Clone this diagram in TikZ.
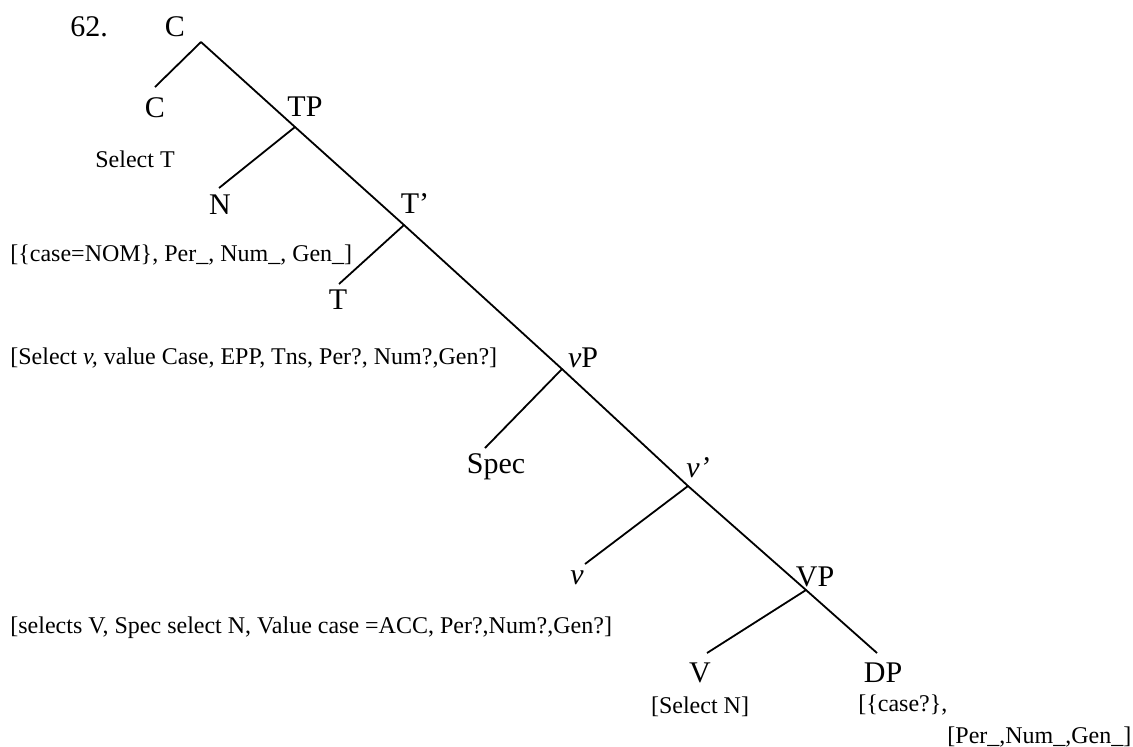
\documentclass[tikz,border=0pt]{standalone}
\usepackage{fontspec}
\setmainfont{Liberation Serif}
\usetikzlibrary{positioning}
\newcommand{\labfont}{\fontsize{15}{17}\selectfont}
\newcommand{\featfont}{\fontsize{12}{14}\selectfont}

\begin{document}
\begin{tikzpicture}[x=0.5pt, y=-0.5pt,
	lab/.style={font=\labfont, inner sep=0pt},
	feat/.style={font=\featfont, inner sep=0pt},
	branch/.style={line width=0.9pt}]
	\useasboundingbox (0,0) rectangle (1133,746);
	
	% junctions on the spine
	\coordinate (cp) at (201,42);
	\coordinate (tp) at (295,127);
	\coordinate (tbar) at (404,225);
	\coordinate (vp) at (562,369);
	\coordinate (vbar) at (688,486);
	\coordinate (vpp) at (806,590);
	\coordinate (dp) at (877,653);
	
	% free ends of the left branches
	\coordinate (c) at (155,87);
	\coordinate (n) at (219,188);
	\coordinate (t) at (339,284);
	\coordinate (spec) at (485,448);
	\coordinate (vsmall) at (585,564);
	\coordinate (vbig) at (707,653);
	
	% labels
	\node[lab] (num) at (89,27) {62.};
	\node[lab] (Ctop) at (175,27) {C};
	\node[lab] (C) at (155,108) {C};
	\node[lab] (TP) at (305,107) {TP};
	\node[lab] (N) at (220,205) {N};
	\node[lab] (Tbar) at (415,204) {T’};
	\node[lab] (T) at (338,300) {T};
	\node[lab] (vP) at (583,358) {\textit{v}P};
	\node[lab] (Spec) at (496,467) {Spec};
	\node[lab] (vbarl) at (698,468) {\textit{v’}};
	\node[lab] (v) at (577,578) {\textit{v}};
	\node[lab] (VP) at (815,577) {VP};
	\node[lab] (V) at (700,673) {V};
	\node[lab] (DP) at (883,673) {DP};
	
	% features
	\node[feat] (selT) at (135,159) {Select T};
	\node[feat, anchor=west] (fN) at (10,255) {[\{case=NOM\}, Per\_, Num\_, Gen\_]};
	\node[feat, anchor=west] (fT) at (10,358) {[Select \textit{v,} value Case, EPP, Tns, Per?, Num?,Gen?]};
	\node[feat, anchor=west] (fv) at (10,628) {[selects V, Spec select N, Value case =ACC, Per?,Num?,Gen?]};
	\node[feat, below=6.5pt of V] (fV) {[Select N]};
	\node[feat, anchor=west] (fDP1) at (858,705) {[\{case?\},};
	\node[feat, anchor=west] (fDP2) at (947,737) {[Per\_,Num\_,Gen\_]};
	
	\draw[branch] (cp) -- (tp) -- (tbar) -- (vp) -- (vbar) -- (vpp) -- (dp);
	\draw[branch] (cp) -- (c);
	\draw[branch] (tp) -- (n);
	\draw[branch] (tbar) -- (t);
	\draw[branch] (vp) -- (spec);
	\draw[branch] (vbar) -- (vsmall);
	\draw[branch] (vpp) -- (vbig);
\end{tikzpicture}
\end{document}
